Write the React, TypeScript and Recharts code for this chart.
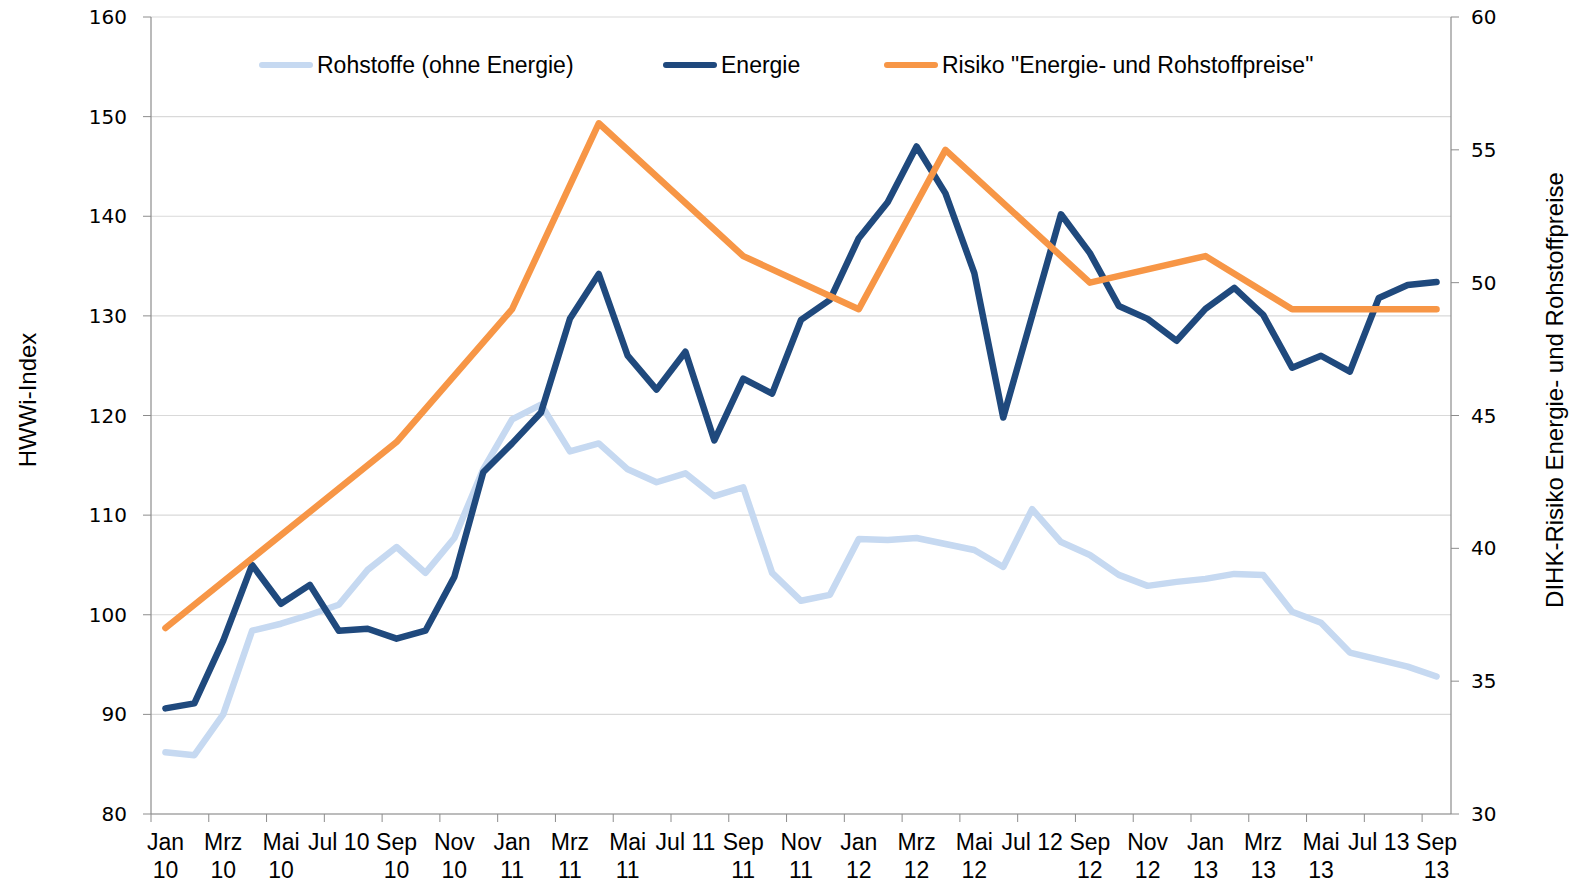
import React from 'react';
import { ComposedChart, Line, XAxis, YAxis, CartesianGrid, Legend } from 'recharts';

// Monatsreihe Jan 10 – Sep 13
const months = [
  'Jan 10', 'Feb 10', 'Mrz 10', 'Apr 10', 'Mai 10', 'Jun 10', 'Jul 10', 'Aug 10', 'Sep 10', 'Okt 10', 'Nov 10', 'Dez 10',
  'Jan 11', 'Feb 11', 'Mrz 11', 'Apr 11', 'Mai 11', 'Jun 11', 'Jul 11', 'Aug 11', 'Sep 11', 'Okt 11', 'Nov 11', 'Dez 11',
  'Jan 12', 'Feb 12', 'Mrz 12', 'Apr 12', 'Mai 12', 'Jun 12', 'Jul 12', 'Aug 12', 'Sep 12', 'Okt 12', 'Nov 12', 'Dez 12',
  'Jan 13', 'Feb 13', 'Mrz 13', 'Apr 13', 'Mai 13', 'Jun 13', 'Jul 13', 'Aug 13', 'Sep 13',
];

const rohstoffe = [
  86.2, 85.9, 90.0, 98.4, 99.1, 100.0, 101.0, 104.5, 106.8, 104.2, 107.7, 114.6,
  119.6, 121.1, 116.4, 117.2, 114.6, 113.3, 114.2, 111.9, 112.8, 104.2, 101.4, 102.0,
  107.6, 107.5, 107.7, 107.1, 106.5, 104.8, 110.6, 107.3, 106.0, 104.0, 102.9, 103.3,
  103.6, 104.1, 104.0, 100.3, 99.2, 96.2, 95.5, 94.8, 93.8,
];

const energie = [
  90.6, 91.1, 97.4, 105.0, 101.1, 103.0, 98.4, 98.6, 97.6, 98.4, 103.8, 114.3,
  117.2, 120.3, 129.7, 134.2, 126.0, 122.6, 126.4, 117.5, 123.7, 122.2, 129.6, 131.6,
  137.8, 141.4, 147.0, 142.3, 134.3, 119.8, 130.0, 140.2, 136.3, 131.0, 129.7, 127.5,
  130.7, 132.8, 130.1, 124.8, 126.0, 124.4, 131.8, 133.1, 133.4,
];

// DIHK-Umfrage: nur in Umfragemonaten vorhanden
const risiko: (number | null)[] = [
  37, null, null, null, null, null, null, null, 44, null, null, null,
  49, null, null, 56, null, null, null, null, 51, null, null, null,
  49, null, null, 55, null, null, null, null, 50, null, null, null,
  51, null, null, 49, null, null, null, null, 49,
];

const tickLabels = [
  'Jan\n10', 'Mrz\n10', 'Mai\n10', 'Jul 10', 'Sep\n10', 'Nov\n10',
  'Jan\n11', 'Mrz\n11', 'Mai\n11', 'Jul 11', 'Sep\n11', 'Nov\n11',
  'Jan\n12', 'Mrz\n12', 'Mai\n12', 'Jul 12', 'Sep\n12', 'Nov\n12',
  'Jan\n13', 'Mrz\n13', 'Mai\n13', 'Jul 13', 'Sep\n13',
];

const leftTicks = [80, 90, 100, 110, 120, 130, 140, 150, 160];
const rightTicks = [30, 35, 40, 45, 50, 55, 60];

const COLORS = { rohstoffe: '#c6d9f1', energie: '#1f497d', risiko: '#f79646' };
const AXIS = '#8c8c8c';
const TEXT_FONT = "'Liberation Sans', Arial, sans-serif";
const NUM_FONT = "'DejaVu Sans', Verdana, sans-serif";

const data = months.map((m, i) => ({
  x: i + 0.5,
  month: m,
  rohstoffe: rohstoffe[i],
  energie: energie[i],
  risiko: risiko[i],
}));

// tick marks on the category boundaries, labels in the middle of each second month
const xTicks: number[] = [];
tickLabels.forEach((_, k) => {
  xTicks.push(2 * k, 2 * k + 0.5);
});

const XTick = (props: any) => {
  const { x, y, payload } = props;
  const v = payload.value;
  if (Number.isInteger(v)) {
    return <line x1={x} y1={y} x2={x} y2={y + 8} stroke={AXIS} strokeWidth={1} />;
  }
  const lines = tickLabels[Math.floor(v / 2)].split('\n');
  return (
    <text x={x} y={y} textAnchor="middle" fill="#000" fontSize={23} fontFamily={TEXT_FONT}>
      {lines.map((l, j) => (
        <tspan key={j} x={x} dy={j === 0 ? 36 : 28}>
          {l}
        </tspan>
      ))}
    </text>
  );
};

const legendItems = [
  { key: 'rohstoffe', label: 'Rohstoffe (ohne Energie)', left: 259 },
  { key: 'energie', label: 'Energie', left: 663 },
  { key: 'risiko', label: 'Risiko "Energie- und Rohstoffpreise"', left: 884 },
];

const renderLegend = () => (
  <div style={{ position: 'relative', width: 1575, height: 0 }}>
    {legendItems.map((it) => (
      <div
        key={it.key}
        style={{
          position: 'absolute',
          left: it.left,
          top: 50,
          height: 30,
          display: 'flex',
          alignItems: 'center',
          whiteSpace: 'nowrap',
        }}
      >
        <span
          style={{
            display: 'inline-block',
            width: 54,
            height: 6,
            borderRadius: 3,
            background: (COLORS as any)[it.key],
            marginRight: 4,
          }}
        />
        <span style={{ fontFamily: TEXT_FONT, fontSize: 23, color: '#000' }}>{it.label}</span>
      </div>
    ))}
  </div>
);

const LeftTitle = () => (
  <text
    x={27}
    y={400}
    transform="rotate(-90 27 400)"
    textAnchor="middle"
    dominantBaseline="central"
    fontSize={24}
    fontFamily={TEXT_FONT}
    fill="#000"
  >
    HWWi-Index
  </text>
);

const RightTitle = () => (
  <text
    x={1554}
    y={390}
    transform="rotate(-90 1554 390)"
    textAnchor="middle"
    dominantBaseline="central"
    fontSize={24}
    fontFamily={TEXT_FONT}
    fill="#000"
  >
    DIHK-Risiko Energie- und Rohstoffpreise
  </text>
);

export default function App() {
  return (
    <div style={{ width: 1575, height: 882, background: '#fff' }}>
      <style>{'body{margin:0;}'}</style>
      <ComposedChart
        width={1575}
        height={882}
        data={data}
        margin={{ top: 17, right: 64, left: 91, bottom: 8 }}
      >
        <CartesianGrid yAxisId="left" vertical={false} stroke="#d9d9d9" strokeWidth={1.2} />
        <XAxis
          dataKey="x"
          type="number"
          domain={[0, 45]}
          ticks={xTicks}
          interval={0}
          height={60}
          tickSize={0}
          tickMargin={0}
          tickLine={false}
          axisLine={{ stroke: AXIS, strokeWidth: 1.2 }}
          tick={<XTick />}
        />
        <YAxis
          yAxisId="left"
          orientation="left"
          width={60}
          domain={[80, 160]}
          ticks={leftTicks}
          interval={0}
          tickSize={8}
          tickMargin={16}
          axisLine={{ stroke: AXIS, strokeWidth: 1.2 }}
          tickLine={{ stroke: AXIS }}
          tick={{ fill: '#000', fontSize: 20, fontFamily: NUM_FONT }}
          label={{ content: () => <LeftTitle /> }}
        />
        <YAxis
          yAxisId="right"
          orientation="right"
          width={60}
          domain={[30, 60]}
          ticks={rightTicks}
          interval={0}
          tickSize={8}
          tickMargin={12}
          axisLine={{ stroke: AXIS, strokeWidth: 1.2 }}
          tickLine={{ stroke: AXIS }}
          tick={{ fill: '#000', fontSize: 20, fontFamily: NUM_FONT }}
          label={{ content: () => <RightTitle /> }}
        />
        <Legend
          verticalAlign="top"
          content={renderLegend}
          wrapperStyle={{ top: 0, left: 0, width: 1575, height: 0 }}
        />
        <Line
          yAxisId="left"
          type="linear"
          dataKey="rohstoffe"
          name="Rohstoffe (ohne Energie)"
          stroke={COLORS.rohstoffe}
          strokeWidth={6.5}
          strokeLinecap="round"
          strokeLinejoin="round"
          dot={false}
          activeDot={false}
          isAnimationActive={false}
        />
        <Line
          yAxisId="left"
          type="linear"
          dataKey="energie"
          name="Energie"
          stroke={COLORS.energie}
          strokeWidth={6.5}
          strokeLinecap="round"
          strokeLinejoin="round"
          dot={false}
          activeDot={false}
          isAnimationActive={false}
        />
        <Line
          yAxisId="right"
          type="linear"
          dataKey="risiko"
          name='Risiko "Energie- und Rohstoffpreise"'
          stroke={COLORS.risiko}
          strokeWidth={6.5}
          strokeLinecap="round"
          strokeLinejoin="round"
          connectNulls
          dot={false}
          activeDot={false}
          isAnimationActive={false}
        />
      </ComposedChart>
    </div>
  );
}
